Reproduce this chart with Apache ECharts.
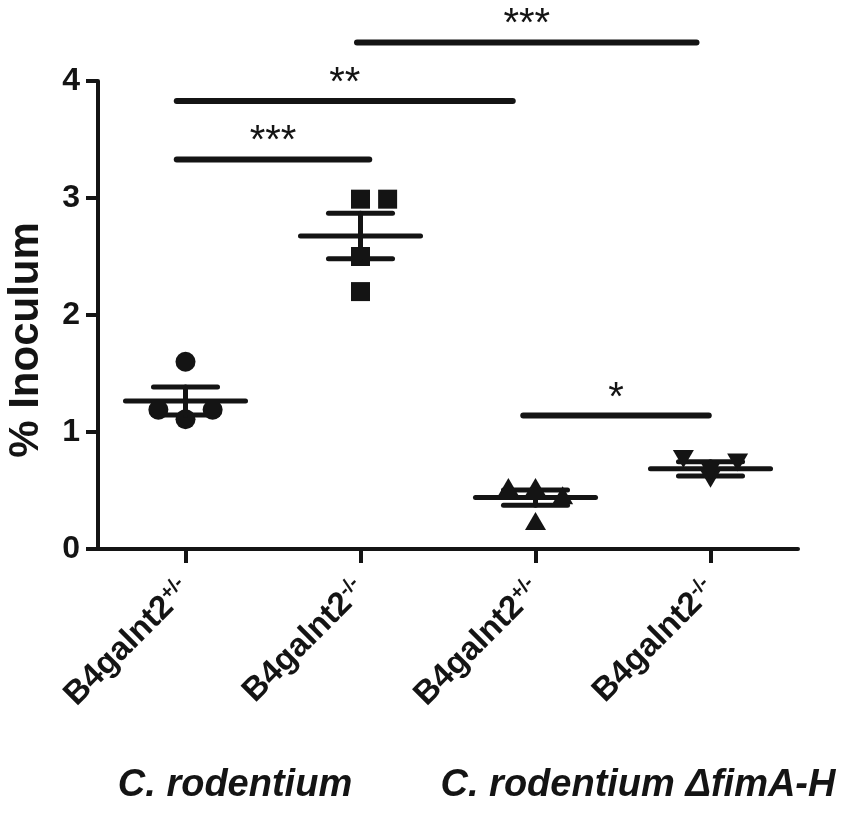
<!DOCTYPE html>
<html><head><meta charset="utf-8">
<script src="https://cdn.jsdelivr.net/npm/echarts@6/dist/echarts.min.js"></script>
<style>html,body{margin:0;padding:0;background:#fff}#c{width:851px;height:813px}</style>
</head><body><div id="c"></div>
<script>
const categories = ['B4galnt2', 'B4galnt2', 'B4galnt2', 'B4galnt2'];
const genotypes = ['+/-', '-/-', '+/-', '-/-'];
const groupNames = ['C. rodentium', 'C. rodentium \u0394fimA-H'];
const yTickMax = 4;
const circleValues = [1.60, 1.19, 1.19, 1.11];
const circleSlots = [0, -1, 1, 0];
const squareValues = [2.99, 2.99, 2.50, 2.20];
const squareSlots = [0, 1, 0, 0];
const triangleValues = [0.53, 0.53, 0.24, 0.46];
const triangleSlots = [-1, 0, 0, 1];
const invTriangleValues = [0.77, 0.74, 0.60, 0.67];
const invTriangleSlots = [-1, 1, 0, 0];
const groupMeans = [1.265, 2.675, 0.44, 0.685];
const groupSems = [0.12, 0.195, 0.065, 0.06];
const sigFrom = [-0.05, -0.05, 0.98, 1.93];
const sigTo = [1.05, 1.87, 2.92, 2.99];
const sigY = [3.33, 3.83, 4.33, 1.14];
const sigText = ['***', '**', '***', '*'];

const INK = '#141414';
const SLOT = 0.155;
const FONT = 'Liberation Sans, Arial, sans-serif';

function pts(group, values, slots) {
  return values.map((v, k) => [group + slots[k] * SLOT, v]);
}

const chart = echarts.init(document.getElementById('c'), null, {renderer: 'canvas'});

const option = {
  backgroundColor: '#fff',
  animation: false,
  grid: {left: 98, top: 81, width: 700, bottom: 264, containLabel: false},
  xAxis: [{
    type: 'category',
    data: categories.map((c, i) => c + '|' + genotypes[i]),
    boundaryGap: true,
    axisLine: {show: true, onZero: false, lineStyle: {color: INK, width: 4}},
    axisTick: {show: true, interval: 0, alignWithLabel: true, length: 14, lineStyle: {color: INK, width: 4}},
    axisLabel: {
      rotate: 45, margin: 36, interval: 0,
      formatter: v => { const p = v.split('|'); return '{b|' + p[0] + '}{s|' + p[1] + '}'; },
      rich: {
        b: {fontFamily: FONT, fontWeight: 'bold', fontSize: 33, color: INK},
        s: {fontFamily: FONT, fontWeight: 'bold', fontSize: 20, color: INK, verticalAlign: 'top', padding: [0, 0, 14, 0]}
      }
    },
    splitLine: {show: false}
  }, {
    type: 'value', min: -0.5, max: 3.5, show: false,
    axisLine: {onZero: false}
  }],
  yAxis: {
    type: 'value', min: 0, max: yTickMax, interval: 1,
    axisLine: {show: true, onZero: false, lineStyle: {color: INK, width: 4}},
    axisTick: {show: true, length: 12, lineStyle: {color: INK, width: 4}},
    axisLabel: {fontFamily: FONT, fontWeight: 'bold', fontSize: 32, color: INK, margin: 18},
    splitLine: {show: false}
  },
  graphic: [
    {type: 'text', x: 26, y: 340, rotation: Math.PI / 2,
     style: {text: '% Inoculum', fontFamily: FONT, fontWeight: 'bold', fontSize: 42, fill: INK, align: 'center', verticalAlign: 'middle'}},
    {type: 'text', x: 235, y: 786,
     style: {text: groupNames[0], fontFamily: FONT, fontWeight: 'bold', fontStyle: 'italic', fontSize: 38, fill: INK, align: 'center', verticalAlign: 'middle'}},
    {type: 'text', x: 638, y: 786,
     style: {text: groupNames[1], fontFamily: FONT, fontWeight: 'bold', fontStyle: 'italic', fontSize: 38, fill: INK, align: 'center', verticalAlign: 'middle'}}
  ],
  series: [
    {type: 'scatter', xAxisIndex: 1, symbol: 'circle', symbolSize: 20, itemStyle: {color: INK, opacity: 1}, data: pts(0, circleValues, circleSlots), z: 3},
    {type: 'scatter', xAxisIndex: 1, symbol: 'rect', symbolSize: 19, itemStyle: {color: INK, opacity: 1}, data: pts(1, squareValues, squareSlots), z: 3},
    {type: 'scatter', xAxisIndex: 1, symbol: 'triangle', symbolSize: [21, 18], itemStyle: {color: INK, opacity: 1}, data: pts(2, triangleValues, triangleSlots), z: 3},
    {type: 'scatter', xAxisIndex: 1, symbol: 'triangle', symbolRotate: 180, symbolSize: [21, 18], itemStyle: {color: INK, opacity: 1}, data: pts(3, invTriangleValues, invTriangleSlots), z: 3},
    {
      type: 'custom', xAxisIndex: 1, z: 4,
      data: groupMeans.map((m, i) => [i, m, groupSems[i]]),
      encode: {x: 0, y: 1},
      renderItem: (params, api) => {
        const i = api.value(0), m = api.value(1), s = api.value(2);
        const st = {stroke: INK, lineWidth: 5, lineCap: 'round'};
        const seg = (a, b) => ({type: 'line', shape: {x1: a[0], y1: a[1], x2: b[0], y2: b[1]}, style: st});
        return {type: 'group', children: [
          seg(api.coord([i - 0.343, m]), api.coord([i + 0.343, m])),
          seg(api.coord([i - 0.183, m + s]), api.coord([i + 0.183, m + s])),
          seg(api.coord([i - 0.183, m - s]), api.coord([i + 0.183, m - s])),
          seg(api.coord([i, m - s]), api.coord([i, m + s]))
        ]};
      }
    },
    {
      type: 'custom', xAxisIndex: 1, z: 5, clip: false,
      data: sigY.map((y, k) => [sigFrom[k], sigTo[k], y]),
      encode: {x: [0, 1], y: 2},
      renderItem: (params, api) => {
        const a = api.coord([api.value(0), api.value(2)]);
        const b = api.coord([api.value(1), api.value(2)]);
        return {type: 'group', children: [
          {type: 'line', shape: {x1: a[0], y1: a[1], x2: b[0], y2: b[1]}, style: {stroke: INK, lineWidth: 6, lineCap: 'round'}},
          {type: 'text', x: (a[0] + b[0]) / 2, y: a[1] - 17,
           style: {text: sigText[params.dataIndex], fontFamily: FONT, fontSize: 40, fill: INK, align: 'center', verticalAlign: 'middle'}}
        ]};
      }
    }
  ]
};
chart.setOption(option);
</script></body></html>
